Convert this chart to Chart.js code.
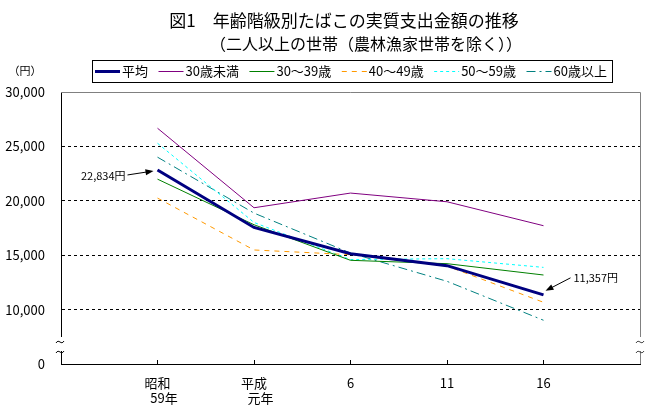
<!DOCTYPE html>
<html>
<head>
<meta charset="utf-8">
<script src="https://cdn.jsdelivr.net/npm/chart.js@4.4.1/dist/chart.umd.min.js"></script>
<style>
body { margin: 0; background: #fff; }
</style>
</head>
<body>
<canvas id="tobacco-chart" width="664" height="409"></canvas>
<script>
const categories = [["昭和", "　59年"], ["平成", "　元年"], "6", "11", "16"];
const series_names = ["平均", "30歳未満", "30～39歳", "40～49歳", "50～59歳", "60歳以上"];

const average  = [22834, 17550, 15140, 14040, 11357];
const under_30 = [26670, 19360, 20710, 19910, 17710];
const age_30s  = [21990, 17800, 14530, 14220, 13180];
const age_40s  = [20250, 15480, 15050, 14000, 10670];
const age_50s  = [25290, 18010, 14600, 14680, 13880];
const over_60  = [24010, 18870, 15200, 12600,  9020];

const title_lines = ["図1　年齢階級別たばこの実質支出金額の推移", "（二人以上の世帯（農林漁家世帯を除く））"];
const unit_label = "（円）";
const y_zero_label = "0";

const font_family = "'Noto Sans CJK JP', 'Noto Sans', sans-serif";
Chart.defaults.font.family = font_family;
Chart.defaults.color = "#000";

const styles = [
    { color: "#000080", width: 3, dash: [] },
    { color: "#800080", width: 1, dash: [] },
    { color: "#008000", width: 1, dash: [] },
    { color: "#FF9900", width: 1, dash: [5, 5] },
    { color: "#00FFFF", width: 1, dash: [3, 3] },
    { color: "#008080", width: 1, dash: [9, 4, 2, 4] }
];

// empty slot on each side, like the original axis
const pad = (arr) => [null, ...arr, null];
const labels = ["", ...categories, ""];

const series = [average, under_30, age_30s, age_40s, age_50s, over_60];
const datasets = series.map((values, i) => ({
    label: series_names[i],
    data: pad(values),
    borderColor: styles[i].color,
    borderWidth: styles[i].width,
    borderDash: styles[i].dash,
    pointRadius: 0,
    fill: false,
    tension: 0
}));

function tilde(ctx, x, y)
{
    ctx.beginPath();
    ctx.moveTo(x - 4, y + 1);
    ctx.bezierCurveTo(x - 1, y - 4, x + 1, y + 4, x + 4, y - 1);
    ctx.stroke();
}

function arrow(ctx, x1, y1, x2, y2)
{
    const a = Math.atan2(y2 - y1, x2 - x1);
    ctx.beginPath();
    ctx.moveTo(x1, y1);
    ctx.lineTo(x2 - 5 * Math.cos(a), y2 - 5 * Math.sin(a));
    ctx.stroke();
    ctx.beginPath();
    ctx.moveTo(x2, y2);
    ctx.lineTo(x2 - 8 * Math.cos(a) + 3 * Math.sin(a), y2 - 8 * Math.sin(a) - 3 * Math.cos(a));
    ctx.lineTo(x2 - 8 * Math.cos(a) - 3 * Math.sin(a), y2 - 8 * Math.sin(a) + 3 * Math.cos(a));
    ctx.closePath();
    ctx.fill();
}

const frame_plugin =
{
    id: "frame",
    beforeDatasetsDraw: (chart) =>
    {
        const { ctx, chartArea: a } = chart;
        ctx.save();
        ctx.strokeStyle = "#808080";
        ctx.lineWidth = 1;
        ctx.beginPath();
        ctx.moveTo(a.left, a.top + 0.5);
        ctx.lineTo(a.right + 0.5, a.top + 0.5);
        ctx.lineTo(a.right + 0.5, a.bottom);
        ctx.stroke();
        ctx.restore();
    },
    afterDraw: (chart) =>
    {
        const { ctx, chartArea: a } = chart;
        ctx.save();

        // axis breaks
        ctx.fillStyle = "#fff";
        ctx.fillRect(a.left - 5, a.bottom - 27, 11, 14);
        ctx.fillRect(a.right - 5, a.bottom - 27, 11, 14);
        ctx.lineWidth = 1;
        ctx.strokeStyle = "#000";
        tilde(ctx, a.left - 1, a.bottom - 22);
        tilde(ctx, a.left - 1, a.bottom - 12);
        ctx.strokeStyle = "#404040";
        tilde(ctx, a.right, a.bottom - 22);
        tilde(ctx, a.right, a.bottom - 12);

        // title
        ctx.fillStyle = "#000";
        ctx.textAlign = "center";
        ctx.textBaseline = "middle";
        ctx.font = "17px " + font_family;
        ctx.fillText(title_lines[0], 344, 21);
        ctx.font = "16px " + font_family;
        ctx.fillText(title_lines[1], 366, 44);

        ctx.font = "11px " + font_family;
        ctx.fillText(unit_label, 25, 71);

        // legend
        ctx.strokeStyle = "#000";
        ctx.lineWidth = 1;
        ctx.strokeRect(92.5, 60.5, 520, 22);
        ctx.font = "13px " + font_family;
        ctx.textAlign = "left";
        let x = 95;
        chart.data.datasets.forEach((ds) =>
        {
            ctx.strokeStyle = ds.borderColor;
            ctx.lineWidth = ds.borderWidth;
            ctx.setLineDash(ds.borderDash);
            ctx.beginPath();
            ctx.moveTo(x, 71.5);
            ctx.lineTo(x + 25, 71.5);
            ctx.stroke();
            ctx.setLineDash([]);
            x += 27;
            ctx.fillStyle = "#000";
            ctx.fillText(ds.label, x, 71.5);
            x += ctx.measureText(ds.label).width + 10.5;
        });

        // value notes on the average line
        const pts = chart.getDatasetMeta(0).data;
        const first = pts[1], last = pts[5];
        ctx.strokeStyle = "#000";
        ctx.fillStyle = "#000";
        ctx.lineWidth = 1;
        ctx.font = "11px " + font_family;
        arrow(ctx, first.x - 30, first.y + 5, first.x - 4, first.y + 1);
        ctx.textAlign = "right";
        ctx.fillText(average[0].toLocaleString("en-US") + "円", first.x - 32, first.y + 6);
        arrow(ctx, last.x + 27, last.y - 17, last.x + 2, last.y - 4);
        ctx.textAlign = "left";
        ctx.fillText(average[4].toLocaleString("en-US") + "円", last.x + 30, last.y - 17);

        ctx.restore();
    }
};

const chart_config =
{
    type: "line",
    data: { labels: labels, datasets: datasets },
    plugins: [frame_plugin],
    options:
    {
        responsive: false,
        animation: false,
        layout: { padding: { left: 0, right: 24, top: 92, bottom: 0 } },
        plugins:
        {
            legend: { display: false },
            title: { display: false },
            tooltip: { enabled: false }
        },
        scales:
        {
            x:
            {
                type: "category",
                offset: false,
                grid: { display: true, drawOnChartArea: false, drawTicks: true, tickLength: -4, color: "#000" },
                border: { display: true, color: "#000", width: 1 },
                ticks: { autoSkip: false, maxRotation: 0, padding: 15, font: { size: 13 }, color: "#000" },
                afterFit: (s) => { s.height = 45; }
            },
            y:
            {
                min: 5000,
                max: 30000,
                ticks:
                {
                    stepSize: 5000,
                    padding: 16,
                    font: { size: 13 },
                    color: "#000",
                    callback: (v) => v === 5000 ? y_zero_label : v.toLocaleString("en-US")
                },
                grid:
                {
                    drawTicks: false,
                    color: (c) => (c.tick && (c.tick.value === 5000 || c.tick.value === 30000)) ? "rgba(0,0,0,0)" : "#000"
                },
                border: { display: true, color: "#000", width: 1, dash: [3, 3] },
                afterFit: (s) => { s.width = 61; }
            }
        }
    }
};

const tobacco_chart = new Chart(document.getElementById("tobacco-chart").getContext("2d"), chart_config);
</script>
</body>
</html>
